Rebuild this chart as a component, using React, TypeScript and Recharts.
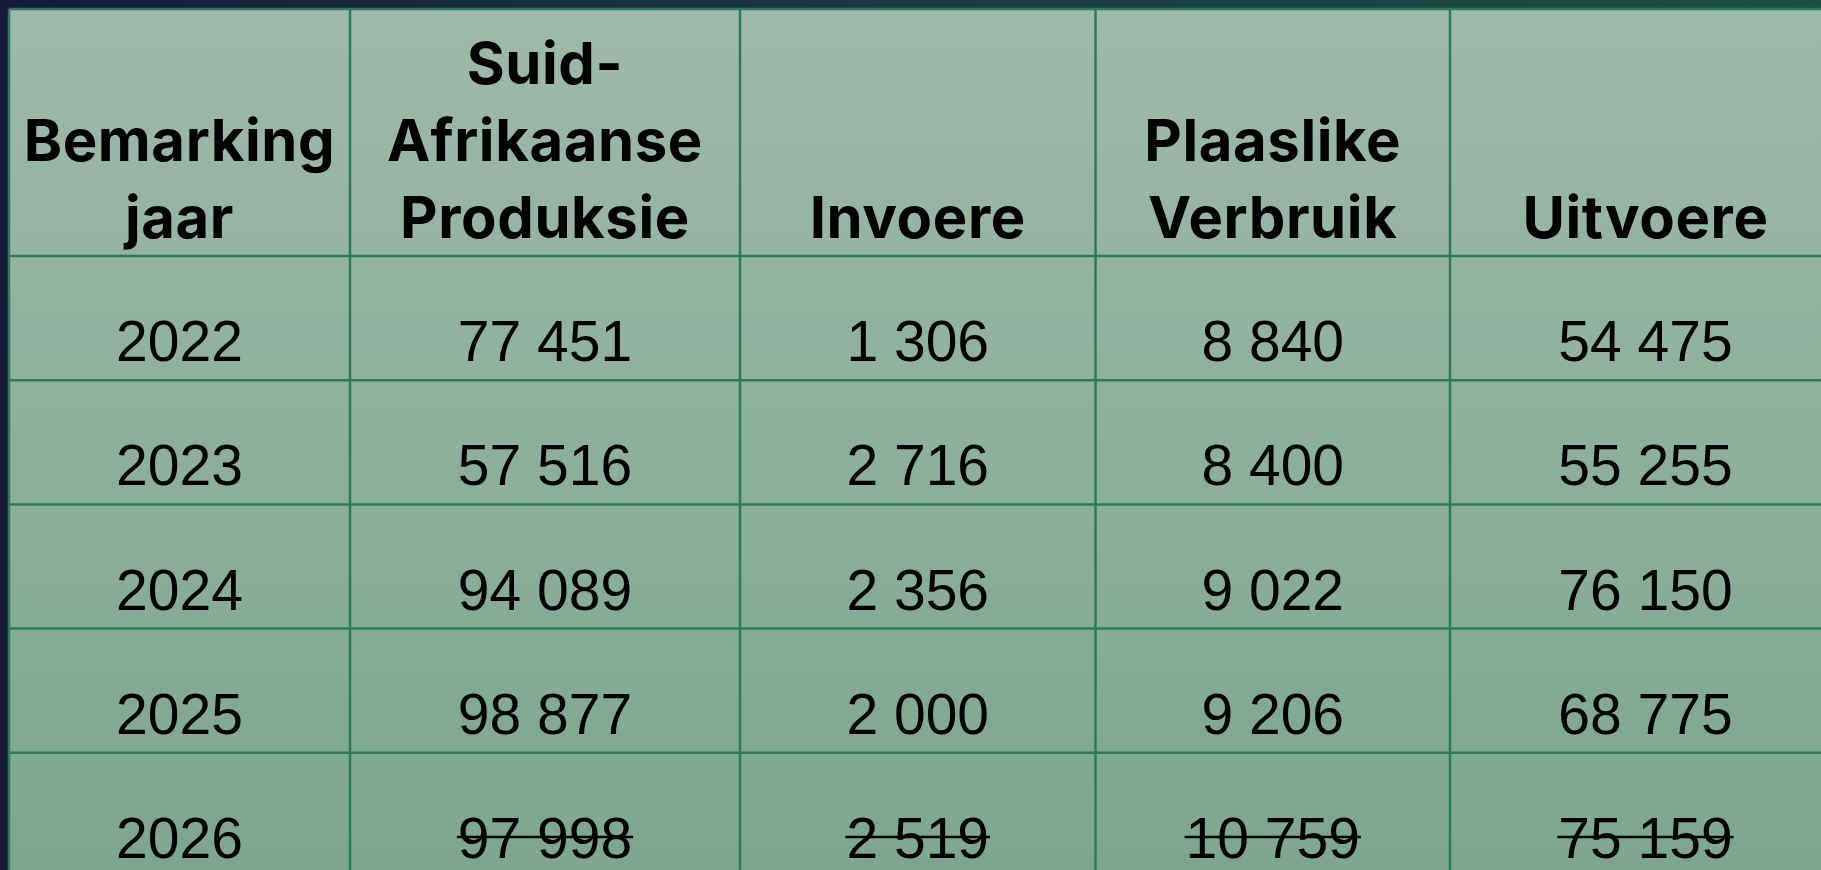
import React from 'react';
import { ComposedChart, XAxis, YAxis, Scatter, ReferenceLine, ReferenceArea } from 'recharts';

// ---- data ----
const years = ['2022', '2023', '2024', '2025', '2026'];
const production = [77451, 57516, 94089, 98877, 97998];
const imports = [1306, 2716, 2356, 2000, 2519];
const consumption = [8840, 8400, 9022, 9206, 10759];
const exportsData = [54475, 55255, 76150, 68775, 75159];
const struckYears = ['2026'];
const headers: string[][] = [
  ['Bemarking', 'jaar'],
  ['Suid-', 'Afrikaanse', 'Produksie'],
  ['Invoere'],
  ['Plaaslike', 'Verbruik'],
  ['Uitvoere'],
];

// ---- layout (table units, origin at table top-left) ----
const W = 1821;
const H = 870;
const OFF = 9;
const colEdges = [0, 341, 731, 1086.5, 1441, 1832];
const headerBottom = 247;
const rowH = 124.2;
const rowEdges = [0, headerBottom, ...years.map((_, i) => headerBottom + rowH * (i + 1))];
const headerLineH = 77;
const GRID = '#2a7c58';

const fmt = (v: number) => String(v).replace(/\B(?=(\d{3})+(?!\d))/g, ' ');
const colCenter = (c: number) => (colEdges[c] + colEdges[c + 1]) / 2;

type Cell = { x: number; y: number; lines: string[]; bold: boolean; strike: boolean };

const columns: (string | number)[][] = [years, production, imports, consumption, exportsData];

const seriesData: Cell[][] = columns.map((col, c) => {
  const head: Cell = {
    x: colCenter(c),
    y: headerBottom - 18,
    lines: headers[c],
    bold: true,
    strike: false,
  };
  const body: Cell[] = col.map((v, r) => ({
    x: colCenter(c),
    y: rowEdges[r + 2] - 19,
    lines: [typeof v === 'number' ? fmt(v) : v],
    bold: false,
    strike: c > 0 && struckYears.includes(years[r]),
  }));
  return [head, ...body];
});

const textWidth = (s: string, size: number) => {
  let w = 0;
  for (const ch of s) w += ch === ' ' ? 0.278 : 0.556;
  return w * size;
};

const CellShape = (props: any) => {
  const { cx, cy, payload } = props;
  if (cx == null || cy == null || !payload) return null;
  const p: Cell = payload;
  if (p.bold) {
    const n = p.lines.length;
    return (
      <g>
        {p.lines.map((l, i) => (
          <text
            key={i}
            x={cx}
            y={cy - (n - 1 - i) * headerLineH}
            textAnchor="middle"
            fontFamily="Inter, 'Liberation Sans', sans-serif"
            fontWeight={700}
            fontSize={58}
            letterSpacing={0.6}
            fill="#000"
          >
            {l}
          </text>
        ))}
      </g>
    );
  }
  const size = 57;
  const w = textWidth(p.lines[0], size);
  return (
    <g>
      <text
        x={cx}
        y={cy}
        textAnchor="middle"
        fontFamily="'Liberation Sans', Arial, sans-serif"
        fontSize={size}
        fill="#000"
      >
        {p.lines[0]}
      </text>
      {p.strike && (
        <line x1={cx - w / 2 - 1} x2={cx + w / 2 + 1} y1={cy - 21} y2={cy - 21} stroke="#000" strokeWidth={2.5} />
      )}
    </g>
  );
};

export default function App() {
  return (
    <div
      style={{
        width: W,
        height: H,
        background: 'linear-gradient(90deg, #151a3a 0%, #1a3a42 50%, #1b4f47 100%)',
        overflow: 'hidden',
      }}
    >
      <style>{'body{margin:0}'}</style>
      <ComposedChart width={W} height={H} margin={{ top: OFF, left: OFF, right: 0, bottom: 0 }}>
        <defs>
          <linearGradient id="tblGrad" x1="0" y1="0" x2="0" y2="1">
            <stop offset="0%" stopColor="#9eb9aa" />
            <stop offset="100%" stopColor="#7ca78e" />
          </linearGradient>
        </defs>
        <XAxis type="number" dataKey="x" domain={[0, W - OFF]} hide allowDataOverflow />
        <YAxis type="number" dataKey="y" domain={[0, H - OFF]} reversed hide allowDataOverflow />
        <ReferenceArea x1={0} x2={W - OFF} y1={0} y2={H - OFF} fill="url(#tblGrad)" fillOpacity={1} stroke="none" ifOverflow="visible" />
        {colEdges.map((e, i) => (
          <ReferenceLine key={'c' + i} x={e} stroke={GRID} strokeWidth={2.5} ifOverflow="visible" />
        ))}
        {rowEdges.map((e, i) => (
          <ReferenceLine key={'r' + i} y={e} stroke={GRID} strokeWidth={2.5} ifOverflow="visible" />
        ))}
        {seriesData.map((d, i) => (
          <Scatter key={i} data={d} shape={CellShape} isAnimationActive={false} legendType="none" />
        ))}
      </ComposedChart>
    </div>
  );
}
